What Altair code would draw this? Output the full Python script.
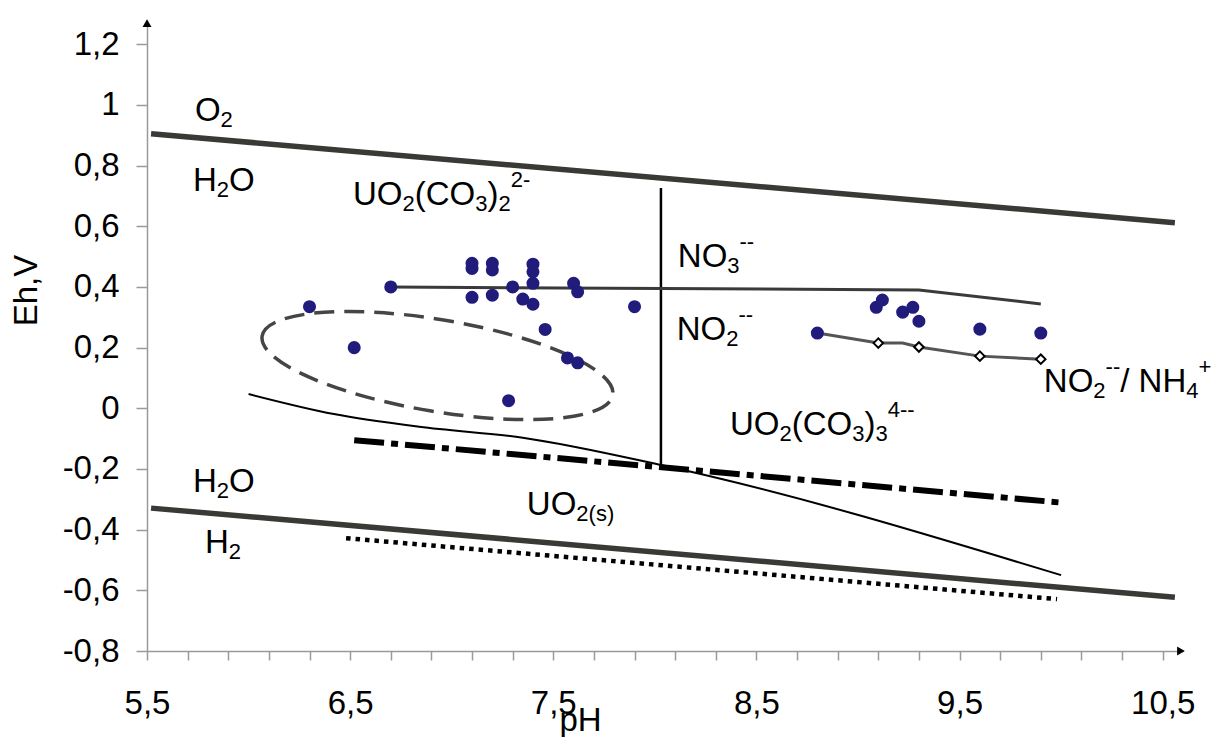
import altair as alt
import pandas as pd

# ---------------- axes ----------------
X_DOMAIN = [5.5, 10.6]
Y_DOMAIN = [-0.8, 1.28]
PLOT_W, PLOT_H = 1036, 631
FONT = "Liberation Sans"
FS = 33

x_ticks = [round(5.5 + 0.2 * i, 1) for i in range(26)]
y_ticks = [-0.8, -0.6, -0.4, -0.2, 0.0, 0.2, 0.4, 0.6, 0.8, 1.0, 1.2]

# ---------------- data ----------------
# water stability limits
o2_ph = [5.52, 10.56]
o2_eh = [0.905, 0.612]
h2_ph = [5.52, 10.56]
h2_eh = [-0.329, -0.623]
# NO3- / NO2- boundary
no3_ph = [6.7, 9.3, 9.9]
no3_eh = [0.400, 0.390, 0.344]
# NO2- / NH4+ boundary
nh4_ph = [8.8, 9.1, 9.22, 9.3, 9.6, 9.9]
nh4_eh = [0.248, 0.215, 0.215, 0.202, 0.172, 0.162]
nh4_mark_ph = [9.1, 9.3, 9.6, 9.9]
nh4_mark_eh = [0.215, 0.202, 0.172, 0.162]
# UO2(CO3)2 / UO2(CO3)3 boundary
vert_ph = [8.03, 8.03]
vert_eh = [0.726, -0.187]
# uranyl carbonates / UO2(s) boundary
thin_ph = [6.0, 6.42, 6.84, 7.35, 8.03, 10.0]
thin_eh = [0.047, -0.019, -0.061, -0.097, -0.187, -0.55]
# other boundaries
dashdot_ph = [6.52, 10.02]
dashdot_eh = [-0.105, -0.312]
dotted_ph = [6.48, 9.98]
dotted_eh = [-0.428, -0.629]
# measured samples
sample_ph = [6.3, 6.7, 7.1, 7.1, 7.1, 7.2, 7.2, 7.2, 7.3, 7.4, 7.4, 7.4, 7.35, 7.4,
             7.6, 7.62, 7.9, 7.46, 6.52, 7.57, 7.62, 7.28,
             8.8, 9.09, 9.12, 9.22, 9.27, 9.3, 9.6, 9.9]
sample_eh = [0.335, 0.40, 0.478, 0.461, 0.366, 0.478, 0.456, 0.373, 0.40, 0.475, 0.45, 0.412, 0.36, 0.343,
             0.412, 0.384, 0.335, 0.26, 0.2, 0.166, 0.15, 0.025,
             0.248, 0.333, 0.357, 0.317, 0.333, 0.287, 0.261, 0.248]
# dashed ellipse around a group of samples (centre, semi-axes in px, tilt)
ellipse_ph = [6.93]
ellipse_eh = [0.141]
ELL_A, ELL_B, ELL_ANGLE = 177.8, 45.9, 9.55

# labels: parts are (text, kind) with kind n = normal, sub, sup
label_parts = [
    [("O", "n"), ("2", "sub")],
    [("H", "n"), ("2", "sub"), ("O", "n")],
    [("UO", "n"), ("2", "sub"), ("(CO", "n"), ("3", "sub"), (")", "n"), ("2", "sub"), ("2-", "sup")],
    [("NO", "n"), ("3", "sub"), ("--", "sup")],
    [("NO", "n"), ("2", "sub"), ("--", "sup")],
    [("UO", "n"), ("2", "sub"), ("(CO", "n"), ("3", "sub"), (")", "n"), ("3", "sub"), ("4--", "sup")],
    [("NO", "n"), ("2", "sub"), ("--", "sup"), ("/ NH", "n"), ("4", "sub"), ("+", "sup")],
    [("H", "n"), ("2", "sub"), ("O", "n")],
    [("H", "n"), ("2", "sub")],
    [("UO", "n"), ("2(s)", "sub")],
]
label_ph = [5.736, 5.726, 6.514, 8.113, 8.108, 8.37, 9.915, 5.726, 5.785, 7.37]
label_eh = [0.947, 0.716, 0.670, 0.465, 0.225, -0.089, 0.053, -0.276, -0.477, -0.352]

# ---------------- helpers ----------------
PX_PER_PH = PLOT_W / (X_DOMAIN[1] - X_DOMAIN[0])
PX_PER_EH = PLOT_H / (Y_DOMAIN[1] - Y_DOMAIN[0])
ADV = {'U': 722, 'O': 778, 'N': 722, 'H': 722, 'C': 722, '(': 333, ')': 333, '2': 556,
       '3': 556, '4': 556, '-': 333, '+': 584, '/': 278, ' ': 278, 's': 500}
SMALL = 0.68
SHIFT = {"n": 0, "sub": 6, "sup": -18}


def layout(parts, ph, eh):
    rows = []
    x = 0.0
    for txt, kind in parts:
        size = FS if kind == "n" else round(FS * SMALL)
        rows.append({"t": txt, "ph": ph + x / PX_PER_PH,
                     "eh": eh - SHIFT[kind] / PX_PER_EH, "size": size})
        x += sum(ADV[c] for c in txt) * size / 1000.0
    return rows


text_rows = []
for parts, p, e in zip(label_parts, label_ph, label_eh):
    text_rows += layout(parts, p, e)
text_df = pd.DataFrame(text_rows)

xs = alt.Scale(domain=X_DOMAIN, nice=False, zero=False)
ys = alt.Scale(domain=Y_DOMAIN, nice=False, zero=False)
AX = "#9a9a9a"
x_axis = alt.Axis(values=x_ticks,
                  labelExpr="round(datum.value*10) % 10 == 5 ? replace(format(datum.value, '.1f'), '.', ',') : ''",
                  title="pH", titleX=433, titleY=79, titleAlign="center", titleBaseline="alphabetic",
                  titleFont=FONT, titleFontSize=FS, titleFontWeight="normal", titleColor="black",
                  labelFont=FONT, labelFontSize=33, labelColor="black", labelBaseline="alphabetic",
                  labelPadding=53, labelFlush=False, labelOverlap=False, labelBound=False,
                  tickSize=9, tickColor=AX, tickWidth=1.5, domainColor=AX, domainWidth=1.5, grid=False)
y_axis = alt.Axis(values=y_ticks,
                  labelExpr="replace(replace(format(datum.value, '.1~f'), '\u2212', '-'), '.', ',')",
                  title="Eh,V", titleX=-111, titleY=270, titleAngle=270, titleAlign="center",
                  titleBaseline="alphabetic",
                  titleFont=FONT, titleFontSize=FS, titleFontWeight="normal", titleColor="black",
                  labelFont=FONT, labelFontSize=33, labelColor="black", labelBaseline="middle",
                  labelPadding=17, labelFlush=False, labelOverlap=False, labelBound=False,
                  tickSize=11, tickColor=AX, tickWidth=1.5, domainColor=AX, domainWidth=1.5, grid=False)


def X():
    return alt.X("ph:Q", scale=xs, axis=x_axis)


def Y():
    return alt.Y("eh:Q", scale=ys, axis=y_axis)


def line_layer(ph, eh, **kw):
    df = pd.DataFrame({"ph": ph, "eh": eh, "i": list(range(len(ph)))})
    return alt.Chart(df).mark_line(**kw).encode(x=X(), y=Y(), order="i:Q")


k = 0.5523
rb = ELL_B / ELL_A
ellipse_path = (f"M -1 0 C -1 {-k*rb:.4f} {-k:.4f} {-rb:.4f} 0 {-rb:.4f} "
                f"C {k:.4f} {-rb:.4f} 1 {-k*rb:.4f} 1 0 "
                f"C 1 {k*rb:.4f} {k:.4f} {rb:.4f} 0 {rb:.4f} "
                f"C {-k:.4f} {rb:.4f} -1 {k*rb:.4f} -1 0 Z")

ellipse = alt.Chart(pd.DataFrame({"ph": ellipse_ph, "eh": ellipse_eh})).mark_point(
    shape=ellipse_path, size=(2 * ELL_A) ** 2, angle=ELL_ANGLE, filled=False,
    stroke="#454545", strokeWidth=3.5, strokeDash=[20, 10], opacity=1
).encode(x=X(), y=Y())

o2 = line_layer(o2_ph, o2_eh, color="#3b3936", strokeWidth=5.5)
h2 = line_layer(h2_ph, h2_eh, color="#3b3936", strokeWidth=5.5)
no3 = line_layer(no3_ph, no3_eh, color="#3a3a3a", strokeWidth=3)
nh4 = line_layer(nh4_ph, nh4_eh, color="#555555", strokeWidth=3)
vert = line_layer(vert_ph, vert_eh, color="black", strokeWidth=2.5)
thin = line_layer(thin_ph, thin_eh, color="black", strokeWidth=2, interpolate="monotone")
dashdot = line_layer(dashdot_ph, dashdot_eh, color="black", strokeWidth=6,
                     strokeDash=[30, 7, 7, 7], strokeCap="butt")
dotted = line_layer(dotted_ph, dotted_eh, color="black", strokeWidth=4.5,
                    strokeDash=[4.5, 5], strokeCap="butt")

samples = alt.Chart(pd.DataFrame({"ph": sample_ph, "eh": sample_eh})).mark_circle(
    size=170, color="#211c7c", opacity=1
).encode(x=X(), y=Y())

diamonds = alt.Chart(pd.DataFrame({"ph": nh4_mark_ph, "eh": nh4_mark_eh})).mark_point(
    shape="diamond", size=90, filled=True, fill="white", stroke="black", strokeWidth=2, opacity=1
).encode(x=X(), y=Y())

arrows = alt.Chart(pd.DataFrame({"ph": [X_DOMAIN[0], X_DOMAIN[1] - 0.01],
                                 "eh": [Y_DOMAIN[1] - 0.01, Y_DOMAIN[0]],
                                 "shape": ["triangle-up", "triangle-right"]})).mark_point(
    filled=True, color="black", size=80, opacity=1
).encode(x=X(), y=Y(), shape=alt.Shape("shape:N", scale=None, legend=None))

texts = alt.Chart(text_df).mark_text(align="left", baseline="alphabetic", font=FONT, color="black").encode(
    x=X(), y=Y(), text="t:N", size=alt.Size("size:Q", scale=None, legend=None)
)

chart = alt.layer(
    ellipse, o2, h2, dotted, dashdot, thin, vert, no3, nh4, diamonds, samples, arrows, texts
).properties(
    width=PLOT_W, height=PLOT_H,
    autosize=alt.AutoSizeParams(type="none"),
    padding={"left": 139, "top": 12, "right": 33, "bottom": 86},
).configure_view(stroke=None)

chart.save("out.html", embed_options={"renderer": "svg", "actions": False})
